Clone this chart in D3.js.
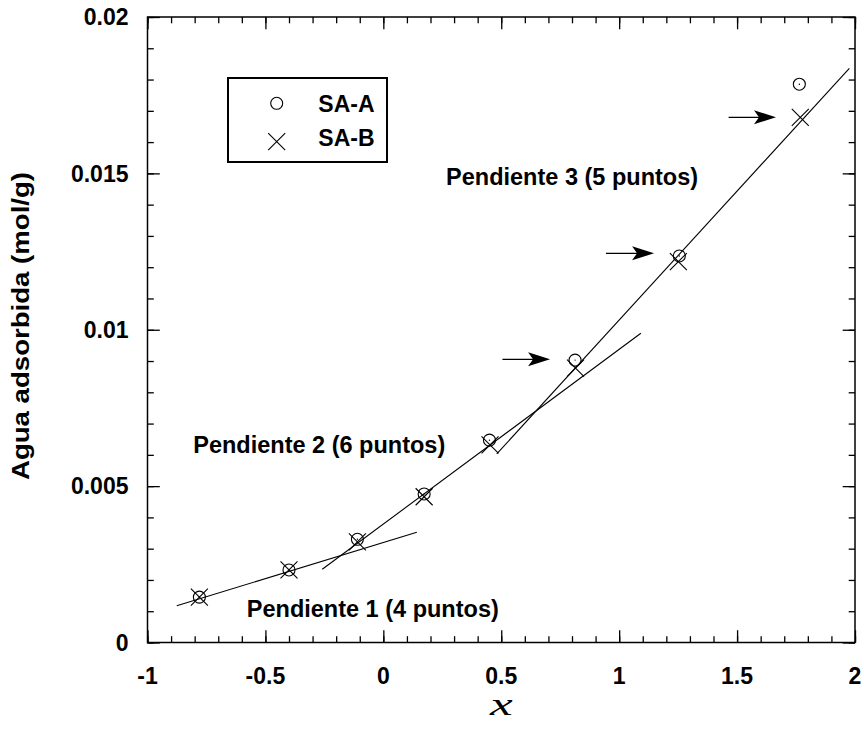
<!DOCTYPE html>
<html>
<head>
<meta charset="utf-8">
<script src="https://cdn.jsdelivr.net/npm/d3@7"></script>
<style>
  html, body { margin: 0; padding: 0; background: #fff; }
  svg { display: block; }
  text { font-family: "Liberation Sans", Arial, Helvetica, sans-serif; font-weight: bold; fill: #000; }
</style>
</head>
<body>
<svg id="chart" width="864" height="729"></svg>
<script>
// Water adsorbed vs x for two samples
const xA = [-0.78, -0.40, -0.11, 0.173, 0.45, 0.813, 1.255, 1.764];
const yA = [0.00145, 0.00232, 0.0033, 0.00475, 0.00647, 0.00903, 0.01236, 0.01785];
const xB = [-0.78, -0.40, -0.11, 0.173, 0.4525, 0.815, 1.251, 1.768];
const yB = [0.00145, 0.00232, 0.00322, 0.00466, 0.00632, 0.00877, 0.01218, 0.01679];

// Fitted slope segments (start / end)
const fitX0 = [-0.876, -0.259, 0.481];
const fitY0 = [0.001177, 0.00234, 0.00603];
const fitX1 = [0.142, 1.092, 1.976];
const fitY1 = [0.003524, 0.009886, 0.01836];
const fitLabels = ["Pendiente 1 (4 puntos)", "Pendiente 2 (6 puntos)", "Pendiente 3 (5 puntos)"];

// Arrows marking the points of the last segment
const arrowX0 = [0.505, 0.944, 1.464];
const arrowX1 = [0.707, 1.148, 1.665];
const arrowY = [0.009055, 0.012445, 0.016793];

// Axes
const xTicks = [-1, -0.5, 0, 0.5, 1, 1.5, 2];
const xTickLabels = ["-1", "-0.5", "0", "0.5", "1", "1.5", "2"];
const yTicks = [0, 0.005, 0.01, 0.015, 0.02];
const yTickLabels = ["0", "0.005", "0.01", "0.015", "0.02"];
const seriesNames = ["SA-A", "SA-B"];

const svg = d3.select("#chart");
const plotL = 147.5, plotR = 855, plotT = 17, plotB = 642.5;

const x = d3.scaleLinear().domain([-1, 2]).range([plotL, plotR]);
const y = d3.scaleLinear().domain([0, 0.02]).range([plotB, plotT]);

const frame = svg.append("g");

const xMinor = d3.range(-10, 21).map(d => d / 10);
const yMinor = d3.range(0, 21).map(d => d / 1000);

// inward ticks on all four sides: minor then major
function ticks(axisGen, tx, ty) {
  const style = g => { g.select(".domain").remove(); g.selectAll("line").attr("stroke", "#000").attr("stroke-width", 1.3); };
  const isX = axisGen.scale() === x;
  frame.append("g").attr("transform", `translate(${tx},${ty})`)
    .call(axisGen.tickValues(isX ? xMinor : yMinor).tickSize(6.3).tickFormat(""))
    .call(style);
  frame.append("g").attr("transform", `translate(${tx},${ty})`)
    .call(axisGen.tickValues(isX ? xTicks : yTicks).tickSize(12.3).tickFormat(""))
    .call(style);
}
ticks(d3.axisTop(x), 0, plotB);
ticks(d3.axisBottom(x), 0, plotT);
ticks(d3.axisRight(y), plotL, 0);
ticks(d3.axisLeft(y), plotR, 0);

// plot frame
frame.append("rect")
  .attr("x", plotL).attr("y", plotT)
  .attr("width", plotR - plotL).attr("height", plotB - plotT)
  .attr("fill", "none").attr("stroke", "#000").attr("stroke-width", 1.5);

// tick labels
svg.append("g").selectAll("text").data(xTicks).join("text")
  .attr("x", d => x(d)).attr("y", plotB + 41)
  .attr("text-anchor", "middle").attr("font-size", 23)
  .text((d, i) => xTickLabels[i]);
svg.append("g").selectAll("text").data(yTicks).join("text")
  .attr("x", plotL - 19).attr("y", d => y(d) + 8.3)
  .attr("text-anchor", "end").attr("font-size", 23)
  .text((d, i) => yTickLabels[i]);

// axis titles
svg.append("text")
  .attr("transform", `translate(29,326) rotate(-90)`)
  .attr("text-anchor", "middle").attr("font-size", 23)
  .attr("textLength", 308).attr("lengthAdjust", "spacingAndGlyphs")
  .text("Agua adsorbida (mol/g)");
svg.append("text")
  .attr("transform", `translate(${(plotL + plotR) / 2},715) scale(1.6,1)`)
  .attr("text-anchor", "middle")
  .style("font-family", "'Liberation Serif', 'DejaVu Serif', serif")
  .style("font-style", "italic").style("font-weight", "normal")
  .attr("font-size", 32)
  .text("x");

// fitted segments
svg.append("g").selectAll("line").data(fitX0).join("line")
  .attr("x1", (d, i) => x(fitX0[i])).attr("y1", (d, i) => y(fitY0[i]))
  .attr("x2", (d, i) => x(fitX1[i])).attr("y2", (d, i) => y(fitY1[i]))
  .attr("stroke", "#000").attr("stroke-width", 1.1);

// segment labels (start x, baseline y)
const labelX = [-0.579, -0.806, 0.266];
const labelY = [0.000825, 0.00605, 0.01463];
svg.append("g").selectAll("text").data(fitLabels).join("text")
  .attr("x", (d, i) => x(labelX[i])).attr("y", (d, i) => y(labelY[i]))
  .attr("font-size", 23.5)
  .text(d => d);

// SA-B crosses
const cross = 8.5;
const crossPath = (cx, cy) => `M${cx - cross},${cy - cross}L${cx + cross},${cy + cross}M${cx - cross},${cy + cross}L${cx + cross},${cy - cross}`;
svg.append("g").selectAll("path").data(xB).join("path")
  .attr("d", (d, i) => crossPath(x(d), y(yB[i])))
  .attr("stroke", "#000").attr("stroke-width", 1.1).attr("fill", "none");

// SA-A circles
const gA = svg.append("g");
gA.selectAll("circle.m").data(xA).join("circle").attr("class", "m")
  .attr("cx", d => x(d)).attr("cy", (d, i) => y(yA[i])).attr("r", 6)
  .attr("fill", "none").attr("stroke", "#000").attr("stroke-width", 1.1);
gA.selectAll("circle.c").data(xA).join("circle").attr("class", "c")
  .attr("cx", d => x(d)).attr("cy", (d, i) => y(yA[i])).attr("r", 0.7)
  .attr("fill", "#000");

// arrows
const gArr = svg.append("g");
arrowY.forEach((v, i) => {
  const x0 = x(arrowX0[i]), x1 = x(arrowX1[i]), yy = y(v);
  gArr.append("line").attr("x1", x0).attr("y1", yy).attr("x2", x1 - 15).attr("y2", yy)
    .attr("stroke", "#000").attr("stroke-width", 1.3);
  gArr.append("path")
    .attr("d", `M${x1},${yy}L${x1 - 22},${yy - 7}L${x1 - 17},${yy}L${x1 - 22},${yy + 7}Z`)
    .attr("fill", "#000");
});

// legend
const lg = svg.append("g");
lg.append("rect").attr("x", 228).attr("y", 78).attr("width", 159).attr("height", 84)
  .attr("fill", "#fff").attr("stroke", "#000").attr("stroke-width", 2);
lg.append("circle").attr("cx", 276.7).attr("cy", 103.3).attr("r", 6)
  .attr("fill", "none").attr("stroke", "#000").attr("stroke-width", 1.1);
lg.append("path").attr("d", crossPath(276.7, 141.7))
  .attr("stroke", "#000").attr("stroke-width", 1.1);
lg.selectAll("text").data(seriesNames).join("text")
  .attr("x", 318.3).attr("y", (d, i) => [111.7, 146][i])
  .attr("font-size", 23)
  .text(d => d);
</script>
</body>
</html>
